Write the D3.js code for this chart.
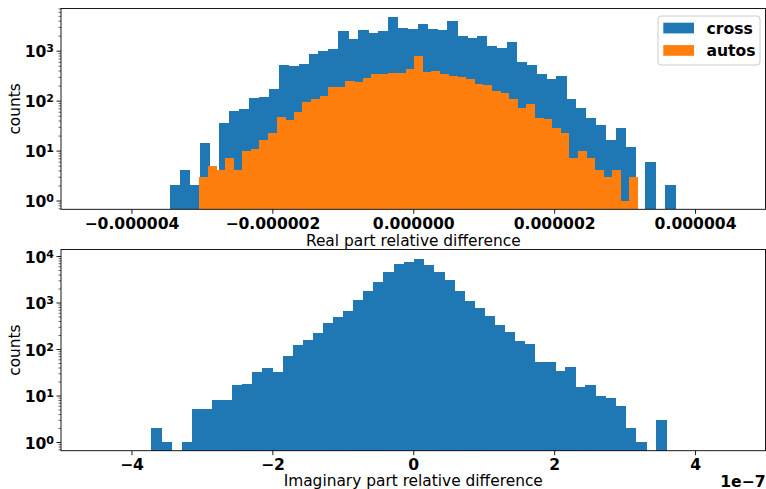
<!DOCTYPE html>
<html><head><meta charset="utf-8">
<script src="https://cdn.jsdelivr.net/npm/d3@7"></script>
<style>body{margin:0;background:#fff}svg{display:block}text{font-family:"DejaVu Sans",sans-serif}</style>
</head><body><svg id="c" width="766" height="489"></svg>
<script>
// ---- data ----
const crossCounts = [2,4,2,14,3,35,63,67,114,117,175,525,485,530,865,1000,1070,2450,1750,2570,2280,2450,4680,2900,2750,3450,2780,2570,4000,1990,1780,1990,1250,1120,1470,585,515,345,273,305,110,71,45,33,16,28,12,0,6,0,2];
const autosCounts = [3,5,4,7,4,10,11,16,22,46,41,60,92,110,125,186,186,245,235,288,335,335,362,362,427,790,380,390,340,315,295,270,214,204,153,144,110,70,85,45,42,28,23,7,10,7,4,3,4,1,3];
const imagCounts = [2,1,0,1,5,5,8,8,17,18,32,39,32,71,124,156,220,357,490,666,1150,1780,2770,4450,6800,7400,8700,6500,4450,3000,1780,1060,760,520,330,230,151,130,52,52,34,41,15,17,10,9,6,2,1,0,3];
const crossRange = [-3.454e-6, 3.716e-6];
const autosRange = [-3.038e-6, 3.187e-6];
const imagRange = [-3.719e-7, 3.591e-7];
const seriesNames = ["cross", "autos"];
const seriesColors = ["#1f77b4", "#ff7f0e"];
const realTicks = [-4e-6, -2e-6, 0, 2e-6, 4e-6];
const realTickLabels = ["\u22120.000004", "\u22120.000002", "0.000000", "0.000002", "0.000004"];
const imagTicks = [-4e-7, -2e-7, 0, 2e-7, 4e-7];
const imagTickLabels = ["\u22124", "\u22122", "0", "2", "4"];
const realDomain = [-5e-6, 5e-6];
const imagDomain = [-5e-7, 5e-7];
const topCountDomain = [0.667, 7000];
const bottomCountDomain = [0.65, 13800];
const topYTicks = [1, 10, 100, 1000];
const bottomYTicks = [1, 10, 100, 1000, 10000];
const realLabel = "Real part relative difference";
const imagLabel = "Imaginary part relative difference";
const yLabel = "counts";
const offsetText = "1e\u22127";

// ---- drawing ----
const svg = d3.select("#c");
const L = 61, R = 765.5;
const FS = 15.6;

function panel(top, bottom, xDomain, yDomain, xTicks, xTickLabels, yTicks, series, xLabel, xLabelY) {
  const x = d3.scaleLinear().domain(xDomain).range([L, R]);
  const y = d3.scaleLog().domain(yDomain).range([bottom, top]);
  const g = svg.append("g");
  const clipId = "clip" + Math.round(top);
  svg.append("clipPath").attr("id", clipId).append("rect")
    .attr("x", L).attr("y", top).attr("width", R - L).attr("height", bottom - top);
  const bars = g.append("g").attr("clip-path", `url(#${clipId})`);
  series.forEach(s => {
    const n = s.counts.length;
    const w = (s.range[1] - s.range[0]) / n;
    bars.append("g").attr("shape-rendering", "crispEdges").selectAll("rect").data(s.counts).join("rect")
      .attr("x", (d, i) => x(s.range[0] + i * w))
      .attr("width", (d, i) => x(s.range[0] + (i + 1) * w) - x(s.range[0] + i * w) + 0.5)
      .attr("y", d => d > 0 ? y(d) : bottom)
      .attr("height", d => d > 0 ? bottom - y(d) : 0)
      .attr("fill", s.color);
  });
  // x axis
  const xa = g.append("g").attr("transform", `translate(0,${bottom})`)
    .call(d3.axisBottom(x).tickValues(xTicks).tickFormat((d, i) => xTickLabels[i]).tickSize(4.5).tickPadding(4));
  xa.select(".domain").remove();
  xa.selectAll("line").attr("stroke", "#000").attr("stroke-width", 0.9);
  xa.selectAll("text").attr("font-size", FS).attr("font-weight", "bold")
    .attr("font-family", "DejaVu Sans").attr("fill", "#000").attr("dy", null).attr("y", 19.3);
  // y axis major
  const ya = g.append("g").attr("transform", `translate(${L},0)`)
    .call(d3.axisLeft(y).tickValues(yTicks).tickFormat("").tickSize(4.5));
  ya.select(".domain").remove();
  ya.selectAll("line").attr("stroke", "#000").attr("stroke-width", 0.9);
  ya.selectAll(".tick").each(function(d) {
    const t = d3.select(this).append("text").attr("x", -7).attr("y", 6)
      .attr("text-anchor", "end").attr("font-size", FS).attr("font-weight", "bold").attr("fill", "#000");
    t.append("tspan").text("10");
    t.append("tspan").attr("font-size", 11).attr("dy", -5).text(String(Math.round(Math.log10(d))));
  });
  // minor ticks
  const minors = [];
  const lo = Math.floor(Math.log10(yDomain[0])), hi = Math.ceil(Math.log10(yDomain[1]));
  for (let k = lo; k <= hi; k++) for (let m = 2; m <= 9; m++) {
    const v = m * Math.pow(10, k);
    if (v >= yDomain[0] && v <= yDomain[1]) minors.push(v);
  }
  const ym = g.append("g").attr("transform", `translate(${L},0)`)
    .call(d3.axisLeft(y).tickValues(minors).tickFormat("").tickSize(2.5));
  ym.select(".domain").remove();
  ym.selectAll("line").attr("stroke", "#000").attr("stroke-width", 0.6);
  // spines
  g.append("rect").attr("x", L).attr("y", top).attr("width", R - L).attr("height", bottom - top)
    .attr("fill", "none").attr("stroke", "#000").attr("stroke-width", 0.9);
  // labels
  g.append("text").attr("x", (L + R) / 2).attr("y", xLabelY).attr("text-anchor", "middle")
    .attr("font-size", 15.4).attr("fill", "#000").text(xLabel);
  g.append("text").attr("transform", `translate(19.5,${(top + bottom) / 2}) rotate(-90)`)
    .attr("text-anchor", "middle").attr("font-size", 15.4).attr("fill", "#000").text(yLabel);
  return {x, y, g};
}

panel(8.5, 209.3, realDomain, topCountDomain, realTicks, realTickLabels, topYTicks,
  [{counts: crossCounts, range: crossRange, color: seriesColors[0]},
   {counts: autosCounts, range: autosRange, color: seriesColors[1]}],
  realLabel, 245.5);

panel(249.5, 450.7, imagDomain, bottomCountDomain, imagTicks, imagTickLabels, bottomYTicks,
  [{counts: imagCounts, range: imagRange, color: seriesColors[0]}],
  imagLabel, 486);

svg.append("text").attr("x", 765.5).attr("y", 486.5).attr("text-anchor", "end")
  .attr("font-size", FS).attr("font-weight", "bold").attr("fill", "#000").text(offsetText);

// legend
const lg = svg.append("g");
lg.append("rect").attr("x", 658).attr("y", 16).attr("width", 102).attr("height", 49).attr("rx", 3)
  .attr("fill", "#fff").attr("fill-opacity", 0.8).attr("stroke", "#ccc").attr("stroke-width", 1);
seriesNames.forEach((name, i) => {
  const yy = 22.7 + i * 22.4;
  lg.append("rect").attr("x", 663.3).attr("y", yy).attr("width", 30.7).attr("height", 10.7).attr("fill", seriesColors[i]);
  lg.append("text").attr("x", 706.5).attr("y", yy + 11).attr("font-size", FS).attr("font-weight", "bold")
    .attr("fill", "#000").text(name);
});
</script></body></html>
